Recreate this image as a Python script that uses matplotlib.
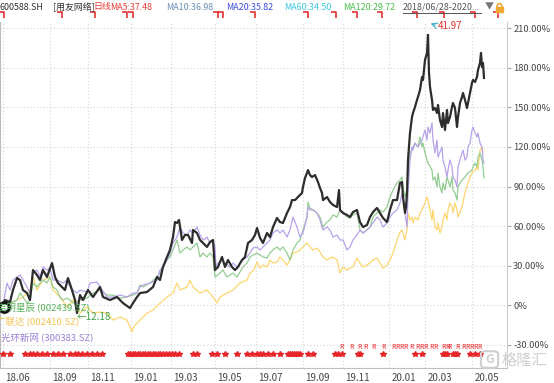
import matplotlib
matplotlib.use('Agg')
import matplotlib.pyplot as plt
from matplotlib.ticker import FuncFormatter
from matplotlib.transforms import ScaledTranslation, blended_transform_factory
from matplotlib.patches import FancyBboxPatch, Rectangle, Arc
from matplotlib.lines import Line2D
from matplotlib.path import Path

plt.rcParams['font.family'] = ['Noto Sans CJK SC', 'DejaVu Sans']

# x = trading days since 2018/06/28, y = % change since start
black_days = [0, 2, 7, 10, 14, 17, 20, 24, 27, 30, 34, 37, 40, 44, 49, 52, 55, 59, 62, 65,
              69, 72, 74, 77, 80, 85, 90, 97, 100, 107, 114, 120, 127, 130, 134, 137, 144, 150, 154, 157,
              160, 164, 167, 170, 172, 174, 176, 179, 182, 185, 189, 190, 194, 197, 200, 204, 207, 210, 212, 215,
              219, 222, 225, 229, 232, 235, 239, 242, 245, 249, 252, 254, 257, 260, 264, 267, 270, 274, 277, 280,
              284, 287, 289, 292, 295, 299, 300, 302, 304, 305, 307, 309, 312, 315, 317, 319, 320, 324, 327, 330,
              334, 336, 337, 340, 344, 347, 350, 354, 357, 360, 364, 367, 370, 374, 377, 380, 384, 387, 390, 394,
              397, 399, 400, 402, 403, 404, 405, 407, 409, 410, 412, 414, 415, 417, 419, 420, 422, 424, 425, 426,
              427, 429, 430, 432, 434, 435, 437, 439, 440, 442, 444, 445, 447, 449, 450, 452, 454, 455, 457, 459,
              460, 462, 464, 465, 467, 469, 470, 472, 474, 475, 477, 478, 479, 480, 481]
black_pct = [0, 3.8, 2.3, 11.4, 20.5, 19.0, 11.4, 9.1, 3.8, 26.6, 22.8, 19.0, 26.6, 21.3, 31.9, 21.3, 16.7, 13.7, 11.4, 20.5,
             11.4, 3.8, -6.1, 7.6, 3.8, 11.4, 6.1, 13.7, 6.1, 3.8, 6.1, 1.5, -2.3, 1.5, 6.1, 9.1, 9.9, 13.7, 21.3, 19.0,
             28.9, 36.5, 41.8, 51.6, 63.0, 62.3, 64.6, 49.4, 53.2, 53.2, 47.1, 57.0, 54.7, 49.4, 47.1, 44.1, 47.8, 49.4, 26.6, 28.9,
             36.5, 28.9, 34.2, 28.9, 26.6, 28.9, 34.2, 36.5, 47.1, 49.4, 53.2, 58.5, 51.0, 47.1, 54.7, 51.6, 59.2, 66.1, 63.0, 62.3,
             69.9, 74.4, 79.7, 79.7, 82.0, 85.1, 89.6, 96.5, 100.3, 102.5, 98.7, 97.2, 98.7, 93.4, 88.9, 85.1, 79.7, 82.0, 78.2, 76.0,
             74.4, 87.3, 72.2, 69.9, 68.4, 66.8, 70.6, 72.2, 63.0, 59.2, 60.8, 66.8, 70.6, 73.7, 69.9, 66.1, 63.0, 72.2, 79.7, 79.7,
             92.7, 93.4, 82.0, 69.9, 74.4, 85.1, 110.1, 130.6, 142.8, 145.8, 150.4, 155.7, 158.0, 163.3, 173.2, 170.9, 186.1, 191.4, 205.1, 176.2,
             165.6, 155.7, 148.1, 149.6, 145.8, 151.9, 140.5, 135.2, 145.8, 132.9, 148.1, 138.2, 142.8, 150.4, 153.4, 149.6, 135.2, 142.8, 153.4, 158.0,
             161.0, 155.7, 149.6, 153.4, 161.0, 168.6, 170.9, 169.4, 173.2, 178.5, 183.8, 191.4, 180.8, 183.8, 172.4]

purple_days = [0, 4, 7, 10, 14, 17, 20, 24, 27, 30, 34, 37, 40, 44, 47, 50, 54, 60, 64, 67,
               70, 74, 77, 84, 87, 94, 97, 104, 110, 117, 124, 130, 134, 137, 140, 147, 154, 157, 160, 164,
               167, 170, 174, 177, 180, 184, 187, 190, 194, 197, 200, 204, 207, 210, 212, 213, 215, 219, 222, 227,
               230, 234, 237, 240, 244, 247, 250, 254, 257, 260, 264, 267, 270, 274, 277, 280, 284, 287, 290, 294,
               297, 300, 304, 305, 307, 310, 314, 317, 320, 324, 327, 330, 334, 337, 340, 344, 347, 350, 354, 357,
               360, 364, 367, 370, 374, 377, 380, 384, 387, 390, 394, 397, 399, 402, 404, 405, 407, 409, 410, 412,
               415, 419, 422, 424, 425, 427, 429, 430, 432, 434, 435, 439, 440, 442, 444, 445, 447, 449, 450, 452,
               454, 455, 457, 459, 460, 462, 464, 465, 467, 469, 470, 472, 474, 475, 477, 479, 480, 481]
purple_pct = [0, 16.7, 11.4, 19.0, 21.3, 22.8, 19.0, 13.7, 9.1, 24.3, 26.6, 21.3, 28.9, 26.6, 28.1, 19.0, 19.0, 16.7, 19.0, 13.7,
              11.4, 9.1, 11.4, 9.9, 16.7, 17.5, 13.7, 6.1, 6.1, 7.6, 6.1, 9.1, 9.1, 13.7, 15.2, 16.7, 19.0, 26.6, 28.9, 34.2,
              39.5, 47.1, 51.6, 59.2, 54.7, 53.2, 57.0, 54.7, 59.2, 53.2, 49.4, 51.6, 47.1, 49.4, 44.1, 28.9, 31.9, 34.2, 31.9, 28.9,
              31.9, 28.9, 31.9, 34.2, 36.5, 39.5, 43.3, 44.1, 41.8, 44.1, 47.1, 49.4, 54.7, 57.0, 54.7, 57.0, 51.6, 57.0, 66.8, 59.2,
              51.6, 54.7, 66.8, 74.4, 72.2, 72.2, 69.9, 64.6, 57.0, 59.2, 57.0, 51.6, 53.2, 49.4, 49.4, 41.8, 44.1, 49.4, 53.2, 57.0,
              54.7, 57.0, 59.2, 62.3, 66.8, 64.6, 59.2, 62.3, 66.8, 69.9, 72.2, 77.5, 85.1, 69.9, 59.2, 85.1, 110.1, 120.0, 117.7, 123.0,
              120.0, 125.3, 132.9, 125.3, 135.2, 130.6, 138.2, 125.3, 115.4, 125.3, 112.4, 120.0, 110.1, 104.8, 97.2, 102.5, 110.1, 104.8, 97.2, 94.9,
              89.6, 104.8, 110.1, 115.4, 117.7, 110.1, 112.4, 120.0, 123.0, 132.9, 135.2, 130.6, 127.6, 130.6, 123.0, 120.0, 110.1, 107.8]

green_days = [0, 7, 14, 17, 20, 24, 27, 30, 34, 37, 40, 44, 47, 50, 54, 57, 60, 64, 67, 70,
              77, 84, 90, 97, 104, 110, 117, 124, 130, 134, 137, 140, 147, 154, 157, 160, 164, 167, 170, 174,
              177, 180, 184, 187, 190, 194, 197, 200, 204, 207, 210, 212, 217, 220, 224, 227, 230, 234, 237, 240,
              244, 247, 250, 254, 257, 260, 264, 267, 270, 274, 277, 280, 284, 287, 290, 294, 297, 300, 304, 305,
              307, 310, 314, 317, 320, 324, 327, 330, 334, 337, 340, 344, 347, 350, 354, 357, 360, 364, 367, 370,
              374, 377, 380, 384, 387, 390, 394, 397, 399, 400, 402, 404, 405, 407, 409, 410, 412, 415, 417, 419,
              420, 422, 424, 425, 429, 430, 432, 434, 435, 437, 439, 440, 442, 444, 445, 447, 449, 450, 452, 454,
              455, 457, 459, 462, 465, 469, 470, 472, 474, 475, 477, 479, 480, 481]
green_pct = [0, 1.5, 3.8, 9.1, 6.1, 1.5, 3.8, 16.7, 13.7, 16.7, 19.0, 16.7, 21.3, 13.7, 11.4, 6.1, 3.8, 5.3, 3.8, 1.5,
             3.8, 5.3, 9.1, 11.4, 7.6, 7.6, 5.3, 6.1, 7.6, 9.1, 15.2, 13.7, 16.7, 21.3, 24.3, 28.9, 34.2, 36.5, 41.8, 49.4,
             39.5, 41.8, 44.1, 41.8, 44.1, 47.1, 36.5, 39.5, 36.5, 39.5, 36.5, 21.3, 24.3, 26.6, 21.3, 22.8, 24.3, 21.3, 25.1, 28.9,
             31.9, 36.5, 38.0, 39.5, 38.0, 36.5, 35.7, 39.5, 41.8, 44.1, 41.8, 44.1, 39.5, 34.2, 41.8, 47.1, 49.4, 57.0, 66.8, 78.2,
             73.7, 72.2, 69.9, 66.8, 59.2, 63.0, 64.6, 68.4, 66.8, 72.2, 69.9, 66.8, 66.1, 68.4, 69.9, 57.0, 54.7, 57.0, 59.2, 66.8,
             69.9, 72.2, 70.6, 74.4, 82.0, 87.3, 92.7, 94.9, 97.2, 89.6, 82.0, 87.3, 97.2, 115.4, 117.7, 120.0, 123.0, 120.0, 127.6, 120.0,
             123.0, 115.4, 110.1, 107.8, 102.5, 94.9, 97.2, 89.6, 100.3, 89.6, 85.1, 92.7, 87.3, 97.2, 94.9, 89.6, 97.2, 87.3, 85.1, 79.7,
             89.6, 92.7, 94.9, 97.2, 100.3, 102.5, 104.8, 107.8, 104.8, 112.4, 115.4, 110.1, 104.8, 96.5]

yellow_days = [0, 7, 14, 20, 27, 30, 34, 40, 47, 50, 57, 64, 70, 77, 84, 90, 97, 104, 110, 117,
               124, 129, 130, 134, 137, 144, 150, 157, 164, 170, 174, 177, 184, 187, 190, 197, 204, 210, 214, 217,
               224, 230, 237, 244, 247, 251, 254, 257, 260, 264, 267, 270, 274, 277, 280, 284, 287, 290, 294, 297,
               300, 304, 307, 310, 314, 317, 320, 324, 327, 330, 334, 337, 340, 344, 347, 350, 354, 357, 360, 364,
               367, 370, 374, 377, 380, 384, 387, 390, 394, 397, 399, 402, 404, 405, 407, 409, 410, 412, 415, 417,
               419, 422, 424, 425, 427, 429, 430, 432, 434, 435, 437, 439, 440, 442, 444, 445, 447, 449, 450, 452,
               454, 455, 459, 462, 465, 467, 469, 472, 474, 475, 477, 479, 480]
yellow_pct = [0, 1.5, 3.8, 6.1, 11.4, 21.3, 11.4, 19.0, 21.3, 11.4, 6.1, -1.5, 3.8, -6.1, -1.5, -6.1, -5.3, -6.1, -11.4, -9.1,
              -11.4, -20.5, -17.5, -13.7, -11.4, -6.1, -3.8, 1.5, 6.1, 9.1, 16.7, 11.4, 13.7, 19.0, 13.7, 9.1, 11.4, 6.1, 1.5, 6.1,
              9.1, 11.4, 16.7, 19.0, 24.3, 26.6, 32.7, 28.1, 30.4, 28.9, 34.2, 31.9, 32.7, 36.5, 34.2, 30.4, 34.2, 39.5, 40.3, 41.8,
              44.1, 47.1, 44.1, 41.8, 43.3, 40.3, 36.5, 34.2, 35.7, 36.5, 34.2, 24.3, 28.9, 26.6, 28.1, 28.9, 35.7, 31.9, 28.9, 30.4,
              31.9, 34.2, 35.7, 31.9, 28.1, 30.4, 34.2, 39.5, 49.4, 55.4, 57.0, 49.4, 57.0, 69.9, 64.6, 66.8, 62.3, 66.8, 64.6, 69.9,
              72.2, 77.5, 82.0, 79.7, 72.2, 64.6, 72.2, 59.2, 57.0, 62.3, 54.7, 59.2, 64.6, 69.9, 64.6, 72.2, 77.5, 74.4, 69.9, 77.5,
              72.2, 66.8, 74.4, 85.1, 92.7, 97.2, 100.3, 102.5, 104.8, 102.5, 117.7, 120.0, 115.4]

# axis ticks
tick_days = [0, 47, 85, 128, 168, 212, 253, 300, 340, 386, 422, 469]
tick_labels = ['18.06', '18.09', '18.11', '19.01', '19.03', '19.05', '19.07',
               '19.09', '19.11', '20.01', '20.03', '20.05']
pct_ticks = [-30, 0, 30, 60, 90, 120, 150, 180, 210]

# event markers
flag_days = [-1, 57, 90, 122, 128, 213, 218, 250, 303, 331, 352, 377, 412, 439, 470, 493]
star_days = [0, 7, 22, 27, 30, 34, 39, 44, 50, 55, 60, 67, 72, 75, 79, 84, 89, 94, 99,
             125, 127, 130, 132, 135, 137, 140, 142, 145, 147, 150, 152, 155, 157, 160, 163, 166, 169, 172, 176,
             190, 194, 209, 214, 222, 234, 244, 249, 254, 257, 260, 265, 270, 277,
             285, 287, 289, 291, 293, 295, 297, 305, 310, 332, 335, 339, 355, 357, 380,
             412, 419, 440, 442, 444, 450, 452, 454, 467, 472, 477]
r_days = [339, 349, 357, 362, 370, 380, 390, 394, 399, 402, 409, 415, 419, 422,
          429, 432, 440, 444, 447, 454, 460, 465, 469, 472, 477]

header = [('600588.SH', 0, '#333333'), ('[用友网络]', 53, '#333333'), ('日线', 93, '#e8403a'),
          ('MA5:37.48', 110, '#e8403a'), ('MA10:36.98', 166, '#6a8fb5'), ('MA20:35.82', 226, '#3b4be0'),
          ('MA60:34.50', 284, '#3cc6de'), ('MA120:29.72', 343, '#48c048'),
          ('2018/06/28-2020...', 403, '#555555')]

W, H = 554, 383
fig = plt.figure(figsize=(W / 100, H / 100), dpi=100)


def fp(x, y):
    return x / W, 1 - y / H


ax = fig.add_axes([0, 15 / H, 507 / W, 346 / H])
ax.set_xlim(-3, 504)
ax.set_ylim(-47.8, 214.9)

ax.plot(yellow_days, yellow_pct, color='#fdd670', lw=0.9, zorder=3)
ax.plot(green_days, green_pct, color='#93cd92', lw=0.9, zorder=3)
ax.plot(purple_days, purple_pct, color='#b8a2ea', lw=0.9, zorder=3)
ax.plot(black_days, black_pct, color='#2d2d2d', lw=1.6, zorder=4)
ax.plot([1], [-1.5], 'o', ms=7, mfc='white', mec='#111111', mew=2.2, zorder=6, clip_on=False)

ax.plot(star_days, [-37] * len(star_days), '*', color='#e8262a', ms=4, ls='none', zorder=5)
for d in r_days:
    ax.text(d, -32, 'R', fontsize=5, color='#e8262a', ha='center', va='center', zorder=5)

flag = Path([(-1, 1), (0.7, 1), (0.7, -1)], [Path.MOVETO, Path.LINETO, Path.LINETO])
trans = blended_transform_factory(ax.transData, ax.transAxes)
ax.plot(flag_days, [1.02] * len(flag_days), transform=trans, marker=flag, ms=4.5, mfc='none',
        mec='#e02020', mew=1.1, ls='none', clip_on=False)

# min / max notes
ax.text(74, -9.1, '←12.18', fontsize=7, color='#3a9e4a', ha='left', va='center', zorder=7)
ax.annotate('', xy=(425, 214.5), xytext=(435, 211.8), annotation_clip=False,
            arrowprops=dict(arrowstyle='->', color='#3bb0c9', lw=0.8))
ax.text(435, 211.5, '41.97', fontsize=7, color='#e8302f', ha='left', va='center', clip_on=False)

ax.grid(True, color='#d6d6d6', linestyle=(0, (1, 2)), linewidth=0.8)
ax.set_axisbelow(True)
ax.spines['top'].set_visible(False)
ax.spines['left'].set_color('#bbbbbb')
ax.spines['right'].set_color('#cccccc')
ax.spines['bottom'].set_color('#c0c0c0')

ax.yaxis.tick_right()
ax.set_yticks(pct_ticks)
ax.yaxis.set_major_formatter(FuncFormatter(lambda v, _: '0%' if v == 0 else '%.2f%%' % v))
ax.tick_params(axis='y', direction='out', length=3, width=0.8, color='#aaaaaa',
               labelsize=6.7, labelcolor='#444444', pad=1.5)

ax.set_xticks(tick_days)
ax.set_xticklabels(tick_labels, ha='left')
ax.set_xticks(tick_days, minor=True)
ax.tick_params(axis='x', which='major', length=0, pad=3.5, labelsize=7, labelcolor='#444444')
ax.tick_params(axis='x', which='minor', length=9, width=0.8, color='#cccccc', direction='out')
for lab in ax.get_xticklabels():
    lab.set_transform(lab.get_transform() + ScaledTranslation(0.025, 0, fig.dpi_scale_trans))

# header row
for txt, x, c in header:
    fig.text(*fp(x, 7), txt, fontsize=6.4, color=c, ha='left', va='center')
fig.add_artist(Line2D([403 / W, 481 / W], [1 - 12.5 / H, 1 - 12.5 / H], color='#555555', lw=0.7))
fig.text(*fp(485, 7), '▼', fontsize=6.5, color='#777777', ha='left', va='center')
fig.add_artist(Rectangle(fp(496, 12), 7 / W, 5 / H, color='#f0a830'))
fig.add_artist(Arc(fp(499.5, 7), 5 / W, 7 / H, theta1=0, theta2=180, color='#f0a830', lw=1.2))

# series names
fig.text(*fp(-3, 307), '启明星辰 (002439.SZ)', fontsize=6.8, color='#56b35a', ha='left', va='center')
fig.text(*fp(-4, 322), '广联达 (002410.SZ)', fontsize=6.8, color='#f2c14e', ha='left', va='center')
fig.text(*fp(1, 337), '光环新网 (300383.SZ)', fontsize=6.8, color='#9a7fd6', ha='left', va='center')

# watermark
fig.add_artist(FancyBboxPatch(fp(482, 367), 15 / W, 15 / H, boxstyle='round,pad=0.002,rounding_size=0.008',
                              fc='none', ec='#cfcfcf', lw=1.5))
fig.text(*fp(489.5, 359.5), 'G', fontsize=9, color='#cfcfcf', ha='center', va='center', weight='bold')
fig.text(*fp(502, 360), '格隆汇', fontsize=11, color='#cfcfcf', ha='left', va='center')

plt.savefig('out.png', dpi=100)
